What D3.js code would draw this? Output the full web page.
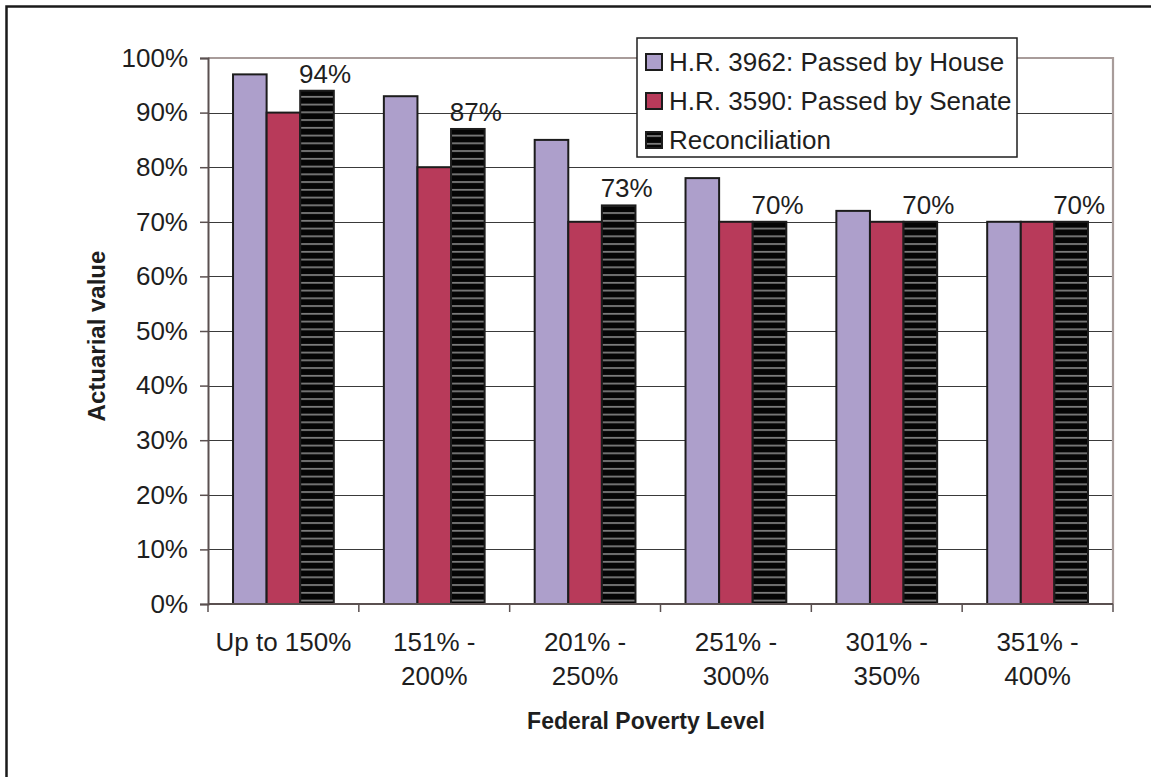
<!DOCTYPE html>
<html>
<head>
<meta charset="utf-8">
<script src="https://cdn.jsdelivr.net/npm/d3@7"></script>
<style>
  html, body { margin: 0; padding: 0; background: #fff; }
  svg { display: block; font-family: "Liberation Sans", Arial, sans-serif; }
</style>
</head>
<body>
<svg id="chart" width="1151" height="777"></svg>
<script>
// ---- data ----
const categories = ["Up to 150%", "151% - 200%", "201% - 250%", "251% - 300%", "301% - 350%", "351% - 400%"];
const categoryLines = [["Up to 150%"], ["151% -", "200%"], ["201% -", "250%"], ["251% -", "300%"], ["301% -", "350%"], ["351% -", "400%"]];
const seriesNames = ["H.R. 3962: Passed by House", "H.R. 3590: Passed by Senate", "Reconciliation"];
const houseValues = [0.97, 0.93, 0.85, 0.78, 0.72, 0.70];
const senateValues = [0.90, 0.80, 0.70, 0.70, 0.70, 0.70];
const reconciliationValues = [0.94, 0.87, 0.73, 0.70, 0.70, 0.70];
const yTicks = [0, 0.1, 0.2, 0.3, 0.4, 0.5, 0.6, 0.7, 0.8, 0.9, 1.0];

(function () {
const seriesValues = [houseValues, senateValues, reconciliationValues];
const fills = ["#ad9fcb", "#b83a5a", "url(#stripes)"];
const textColor = "#1e1e1e";
const fs = 26;

const svg = d3.select("#chart");

// pattern for reconciliation
const defs = svg.append("defs");
const pat = defs.append("pattern").attr("id", "stripes")
  .attr("patternUnits", "userSpaceOnUse").attr("width", 10).attr("height", 7.75);
pat.append("rect").attr("width", 10).attr("height", 7.75).attr("fill", "#050505");
pat.append("rect").attr("y", 3).attr("width", 10).attr("height", 1.6).attr("fill", "#8a8a8a");

// outer border
svg.append("rect").attr("x", 6.5).attr("y", 6.5).attr("width", 1300).attr("height", 1000)
  .attr("fill", "none").attr("stroke", "#1a1a1a").attr("stroke-width", 2.5);

const pLeft = 208, pRight = 1113, pTop = 58, pBottom = 604;

const x = d3.scaleBand().domain(categories).range([pLeft, pRight]).padding(0);
const xSub = d3.scaleBand().domain(seriesNames).range([0, x.step()]).paddingInner(0).paddingOuter(0.745);
const y = d3.scaleLinear().domain([0, 1]).range([pBottom, pTop]);

// gridlines
svg.append("g").selectAll("line").data(yTicks.filter(d => d > 0 && d < 1)).join("line")
  .attr("x1", pLeft).attr("x2", pRight)
  .attr("y1", d => Math.round(y(d)) + 0.5).attr("y2", d => Math.round(y(d)) + 0.5)
  .attr("stroke", "#3a3a3a").attr("stroke-width", 1.2);

// plot area border top/right
svg.append("path")
  .attr("d", `M${pLeft},${pTop}H${pRight}V${pBottom}`)
  .attr("fill", "none").attr("stroke", "#a89c9a").attr("stroke-width", 2.2);

// bars
const groups = svg.append("g").selectAll("g").data(categories).join("g")
  .attr("transform", d => `translate(${x(d)},0)`);
groups.selectAll("rect").data((c, i) => seriesNames.map((s, j) => ({ s, j, v: seriesValues[j][i] })))
  .join("rect")
  .attr("x", d => xSub(d.s))
  .attr("width", xSub.bandwidth())
  .attr("y", d => y(d.v))
  .attr("height", d => y(0) - y(d.v))
  .attr("fill", d => fills[d.j])
  .attr("stroke", "#1c1c1c").attr("stroke-width", 2);

// data labels on reconciliation
svg.append("g").selectAll("text").data(categories).join("text")
  .attr("x", (c) => x(c) + xSub(seriesNames[2]) + xSub.bandwidth() / 2 + 8)
  .attr("y", (c, i) => y(reconciliationValues[i]) - 8)
  .attr("text-anchor", "middle")
  .attr("font-size", fs).attr("fill", textColor)
  .text((c, i) => d3.format(".0%")(reconciliationValues[i]));

// y axis
const yAxis = svg.append("g").attr("transform", `translate(${pLeft},0)`)
  .call(d3.axisLeft(y).tickValues(yTicks).tickFormat(d3.format(".0%")).tickSize(8).tickPadding(12));
yAxis.select(".domain").attr("stroke", "#5a5050").attr("stroke-width", 2);
yAxis.selectAll(".tick line").attr("stroke", "#5a5050").attr("stroke-width", 1.5);
yAxis.selectAll(".tick text").attr("font-size", fs).attr("fill", textColor)
  .attr("font-family", "Liberation Sans, Arial, sans-serif");

// x axis (ticks at category boundaries)
svg.append("line").attr("x1", pLeft).attr("x2", pRight).attr("y1", pBottom).attr("y2", pBottom)
  .attr("stroke", "#5a5050").attr("stroke-width", 2);
const boundaries = categories.map(c => x(c)).concat([pRight]);
svg.append("g").selectAll("line").data(boundaries).join("line")
  .attr("x1", d => d).attr("x2", d => d).attr("y1", pBottom).attr("y2", pBottom + 8)
  .attr("stroke", "#5a5050").attr("stroke-width", 1.5);

const xl = svg.append("g").selectAll("text").data(categories).join("text")
  .attr("text-anchor", "middle").attr("font-size", fs).attr("fill", textColor)
  .attr("x", c => x(c) + x.bandwidth() / 2).attr("y", 651);
xl.selectAll("tspan").data((c, i) => categoryLines[i]).join("tspan")
  .attr("x", function () { return d3.select(this.parentNode).attr("x"); })
  .attr("dy", (d, k) => k === 0 ? 0 : 34)
  .text(d => d);

// axis titles
svg.append("text").attr("transform", "translate(105,336) rotate(-90)")
  .attr("text-anchor", "middle").attr("font-size", 24).attr("font-weight", "bold").attr("fill", textColor)
  .text("Actuarial value");
svg.append("text").attr("x", 646).attr("y", 729)
  .attr("text-anchor", "middle").attr("font-size", 23).attr("font-weight", "bold").attr("fill", textColor)
  .text("Federal Poverty Level");

// legend
const lg = svg.append("g");
lg.append("rect").attr("x", 637).attr("y", 38).attr("width", 380).attr("height", 119)
  .attr("fill", "#fff").attr("stroke", "#1e1e1e").attr("stroke-width", 1.5);
const items = lg.selectAll("g").data(seriesNames).join("g")
  .attr("transform", (d, i) => `translate(646,${62 + i * 39})`);
items.append("rect").attr("x", 0).attr("y", -8).attr("width", 16).attr("height", 16)
  .attr("fill", (d, i) => fills[i]).attr("stroke", "#1c1c1c").attr("stroke-width", 2);
items.append("text").attr("x", 23).attr("dy", "0.35em").attr("font-size", fs).attr("fill", textColor)
  .text(d => d);
})();
</script>
</body>
</html>
